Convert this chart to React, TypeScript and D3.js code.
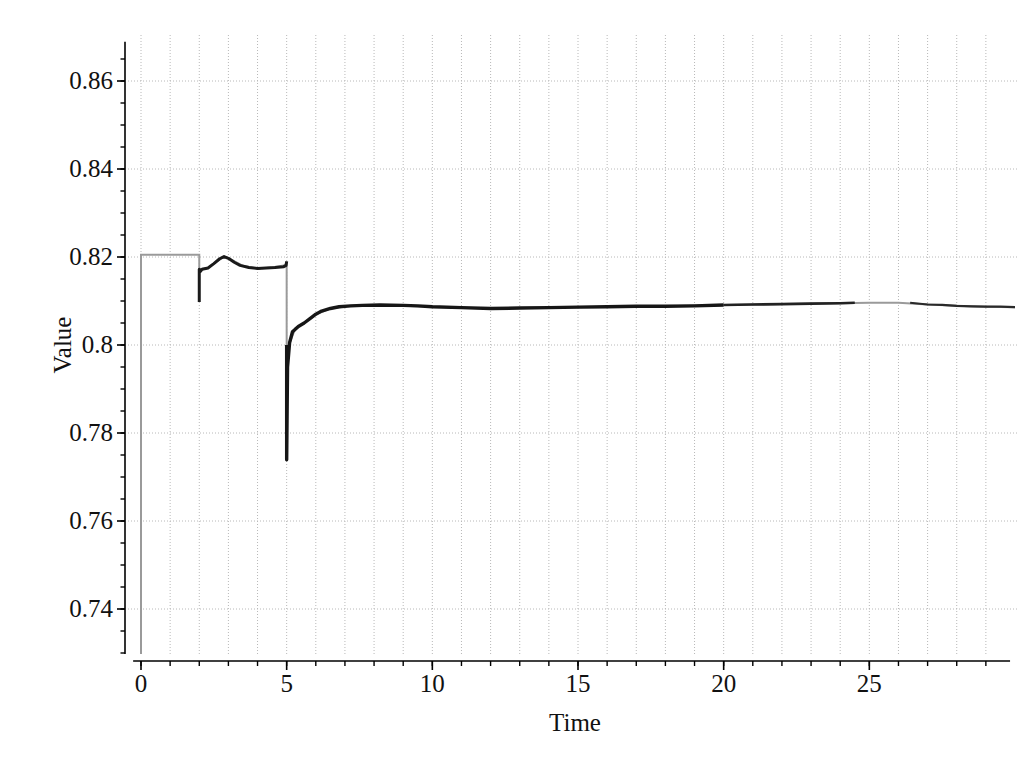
import React from "react";
import * as d3 from "d3";

const grayT = [0, 0, 2, 2, 2.3, 2.6, 2.85, 3.1, 3.5, 4.0, 4.5, 4.95, 5, 5, 5.1, 5.3, 5.6, 6.0, 6.5, 7.2, 8.2, 10, 12, 15, 18, 20, 22, 24, 25, 26, 27, 28, 29, 30];
const grayV = [0.7298, 0.8205, 0.8205, 0.8172, 0.8175, 0.819, 0.8201, 0.8194, 0.818, 0.8174, 0.8176, 0.8181, 0.819, 0.797, 0.8005, 0.8038, 0.805, 0.807, 0.8083, 0.8089, 0.8091, 0.8087, 0.8083, 0.8086, 0.8088, 0.8091, 0.8093, 0.8095, 0.8096, 0.8096, 0.8092, 0.8089, 0.8087, 0.8086];

const black1T = [2, 2, 2.02, 2.1, 2.3, 2.5, 2.7, 2.85, 3.0, 3.2, 3.4, 3.7, 4.0, 4.3, 4.6, 4.9, 4.98, 5.0];
const black1V = [0.8098, 0.8172, 0.8166, 0.8172, 0.8175, 0.8185, 0.8196, 0.8201, 0.8197, 0.8188, 0.8181, 0.8176, 0.8174, 0.8175, 0.8176, 0.8178, 0.8181, 0.819];

const black2T = [5, 5, 5.03, 5.1, 5.2, 5.4, 5.6, 5.8, 6.0, 6.2, 6.5, 6.8, 7.2, 7.6, 8.2, 9.0, 9.5, 10, 11, 12, 13, 14, 15, 16, 17, 18, 19, 20];
const black2V = [0.8, 0.7739, 0.795, 0.8005, 0.803, 0.8042, 0.805, 0.806, 0.807, 0.8077, 0.8083, 0.8087, 0.8089, 0.809, 0.8091, 0.809, 0.8089, 0.8087, 0.8085, 0.8083, 0.8084, 0.8085, 0.8086, 0.8087, 0.8088, 0.8088, 0.8089, 0.8091];

const black3T = [20, 21, 22, 23, 24, 24.5];
const black3V = [0.8091, 0.8092, 0.8093, 0.8094, 0.8095, 0.8096];

const black4T = [26.4, 27, 27.5, 28, 28.5, 29, 29.5, 30];
const black4V = [0.8096, 0.8092, 0.8091, 0.8089, 0.8088, 0.8087, 0.8087, 0.8086];

const yMajor = [0.74, 0.76, 0.78, 0.8, 0.82, 0.84, 0.86];
const xMajor = [0, 5, 10, 15, 20, 25];

const FONT = "'Liberation Serif', 'Times New Roman', serif";

export default function App() {
  const x = d3.scaleLinear().domain([0, 30]).range([141, 1015]);
  const y = d3.scaleLinear().domain([0.74, 0.86]).range([609, 81]);

  const xMinor = d3.range(0, 30, 1);
  const yMinor = d3.range(0, 28).map((i) => +(0.73 + i * 0.005).toFixed(3));
  const xGrid = d3.range(0, 30, 1);

  const line = d3
    .line<[number, number]>()
    .x((d) => x(d[0]))
    .y((d) => y(d[1]));
  const pts = (t: number[], v: number[]) => t.map((tt, i) => [tt, v[i]] as [number, number]);

  const axX0 = x(-0.27);
  const axX1 = x(29.83);
  const axY = 661;
  const ayX = 125;
  const ayTop = y(0.8689);
  const ayBot = y(0.7298);

  return (
    <svg width={1032} height={763} style={{ position: "absolute", left: 0, top: 0, background: "#fff" }}>
      <rect x={0} y={0} width={1032} height={763} fill="#fff" />
      {xGrid.map((t) => (
        <line key={"gx" + t} x1={x(t)} x2={x(t)} y1={35} y2={656} stroke="#b8b8b8" strokeWidth={1} strokeDasharray="1,2" />
      ))}
      {yMajor.map((v) => (
        <line key={"gy" + v} x1={128} x2={1017} y1={y(v)} y2={y(v)} stroke="#b8b8b8" strokeWidth={1} strokeDasharray="1,2" />
      ))}
      <path d={line(pts(grayT, grayV)) || ""} fill="none" stroke="#9a9a9a" strokeWidth={2} />
      <path d={line(pts(black1T, black1V)) || ""} fill="none" stroke="#1a1a1a" strokeWidth={3} strokeLinejoin="round" />
      <path d={line(pts(black2T, black2V)) || ""} fill="none" stroke="#161616" strokeWidth={3.4} strokeLinejoin="round" />
      <path d={line(pts(black3T, black3V)) || ""} fill="none" stroke="#222" strokeWidth={2.6} strokeLinejoin="round" />
      <path d={line(pts(black4T, black4V)) || ""} fill="none" stroke="#2a2a2a" strokeWidth={2.2} strokeLinejoin="round" />
      <line x1={ayX} x2={ayX} y1={ayTop} y2={ayBot} stroke="#000" strokeWidth={1.6} />
      {yMinor.map((v) => (
        <line key={"ym" + v} x1={ayX - 4.5} x2={ayX} y1={y(v)} y2={y(v)} stroke="#000" strokeWidth={1.4} />
      ))}
      {yMajor.map((v) => (
        <g key={"yt" + v}>
          <line x1={ayX - 8} x2={ayX} y1={y(v)} y2={y(v)} stroke="#000" strokeWidth={1.6} />
          <text x={113} y={y(v) + 8} textAnchor="end" fontFamily={FONT} fontSize={25} fill="#111">
            {String(+v.toFixed(2))}
          </text>
        </g>
      ))}
      <line x1={axX0} x2={axX1} y1={axY} y2={axY} stroke="#000" strokeWidth={1.6} />
      {xMinor.map((t) => (
        <line key={"xm" + t} x1={x(t)} x2={x(t)} y1={axY} y2={axY + 5} stroke="#000" strokeWidth={1.4} />
      ))}
      {xMajor.map((t) => (
        <g key={"xt" + t}>
          <line x1={x(t)} x2={x(t)} y1={axY} y2={axY + 9} stroke="#000" strokeWidth={1.6} />
          <text x={x(t)} y={692} textAnchor="middle" fontFamily={FONT} fontSize={25} fill="#111">
            {String(t)}
          </text>
        </g>
      ))}
      <text x={575} y={731} textAnchor="middle" fontFamily={FONT} fontSize={25} fill="#111">
        Time
      </text>
      <text transform={`translate(71,345) rotate(-90)`} textAnchor="middle" fontFamily={FONT} fontSize={25} fill="#111">
        Value
      </text>
    </svg>
  );
}
